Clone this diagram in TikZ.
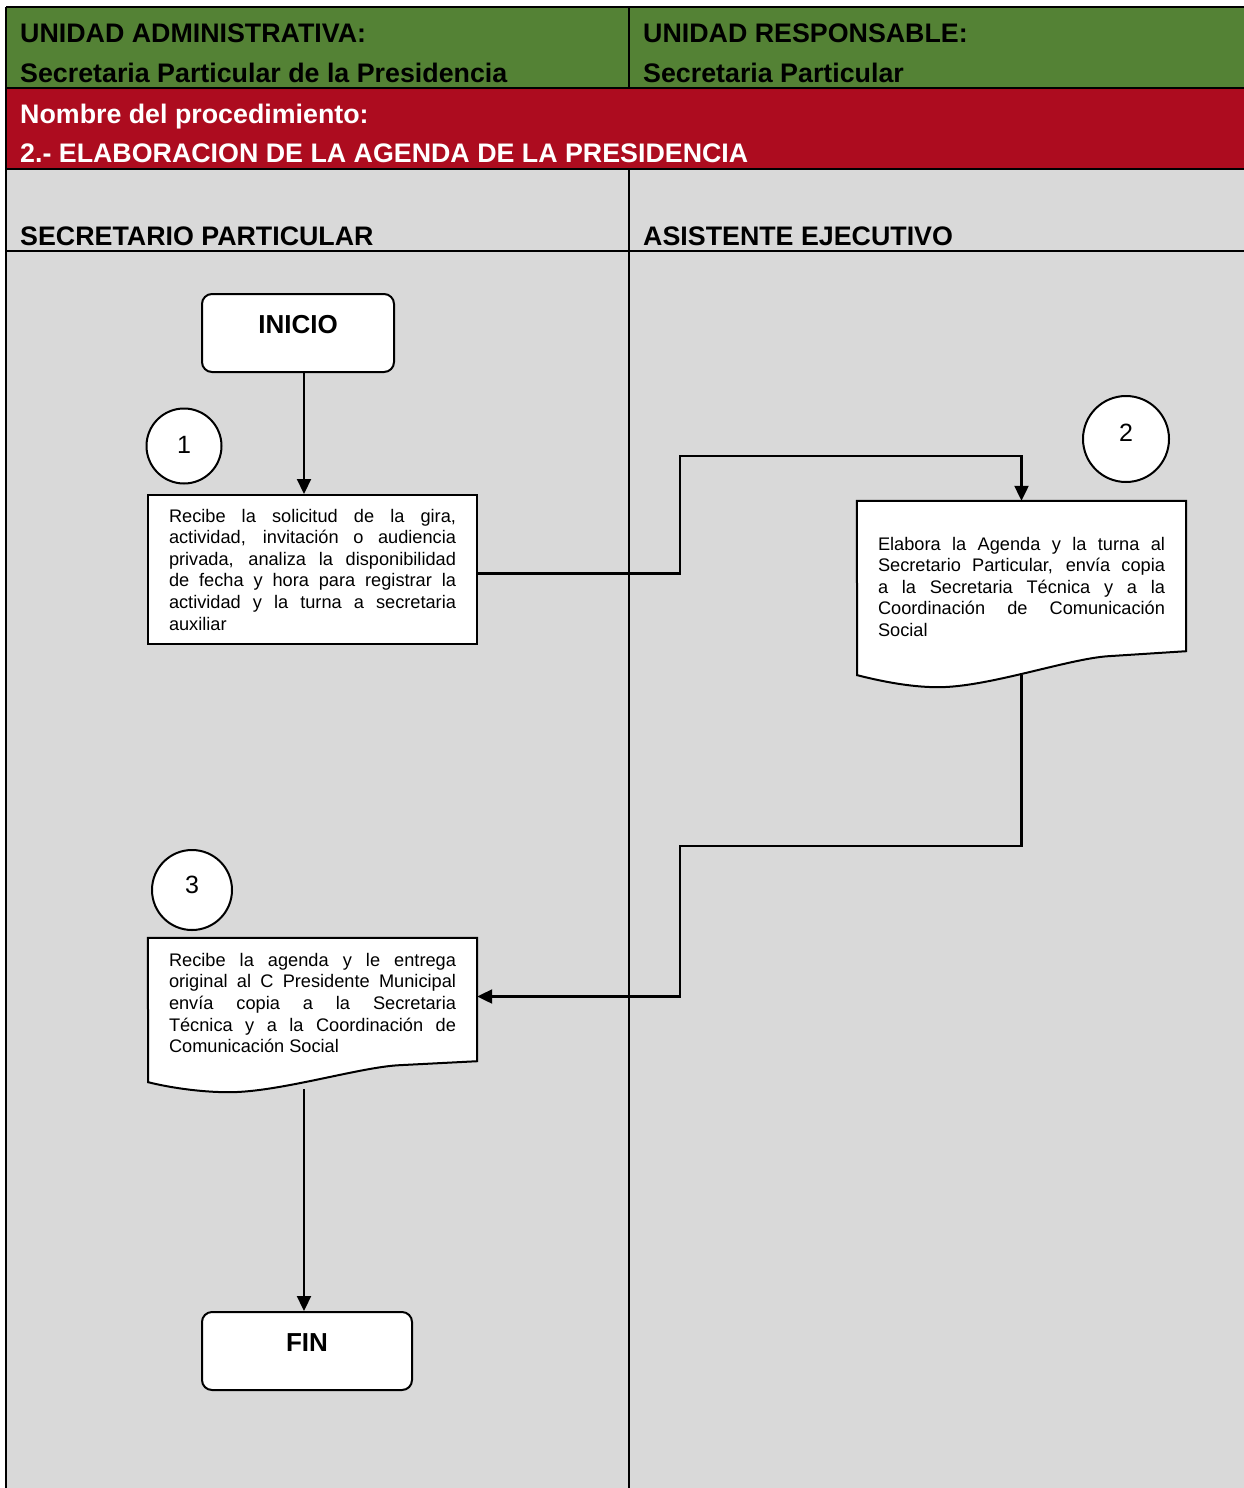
\documentclass[tikz,border=0pt]{standalone}
\usepackage{fontspec}
\setmainfont{Liberation Sans}
\usepackage{xcolor}
\usetikzlibrary{arrows.meta,positioning}
\definecolor{vgreen}{HTML}{548235}
\definecolor{vred}{HTML}{AD0C1F}
\definecolor{vgray}{HTML}{D9D9D9}

\begin{document}
\begin{tikzpicture}[x=1pt, y=-1pt,
		hdr/.style={anchor=base west, inner sep=0pt, font=\fontsize{26.8}{30}\selectfont\bfseries},
		endbox/.style={draw=black, fill=white, line width=2pt, rounded corners=10pt, minimum height=78pt, text height=10pt, text depth=10pt, font=\fontsize{26}{30}\selectfont\bfseries},
		stepbox/.style={draw=black, fill=white, line width=2pt, minimum width=329pt, text width=287pt, inner sep=0pt, align=justify, font=\fontsize{18.2}{21.6}\selectfont},
		docframe/.style={minimum width=329pt, inner sep=0pt},
		doctext/.style={text width=287pt, inner sep=0pt, align=justify, font=\fontsize{18.2}{21.6}\selectfont},
		num/.style={circle, draw=black, fill=white, line width=2pt, inner sep=0pt, text height=18pt, font=\fontsize{25}{28}\selectfont},
		flow/.style={line width=2.2pt, -{Triangle[length=15pt,width=14pt]}}]
		\useasboundingbox (0,0) rectangle (1244,1488);
		% header rows and lanes
		\fill[vgreen] (6,7) rectangle (1244,88);
		\fill[vred] (6,88) rectangle (1244,169);
		\fill[vgray] (6,169) rectangle (1244,1488);
		\draw[line width=2.5pt] (6,7) -- (1244,7);
		\draw[line width=2.5pt] (6,88) -- (1244,88);
		\draw[line width=2.5pt] (6,169) -- (1244,169);
		\draw[line width=2.5pt] (6,251) -- (1244,251);
		\draw[line width=2.5pt] (6,7) -- (6,1488);
		\draw[line width=2.5pt] (629,7) -- (629,88);
		\draw[line width=2.5pt] (629,169) -- (629,1488);
		\node[hdr] (unidadadm) at (20,42.5) {UNIDAD ADMINISTRATIVA:};
		\node[hdr] (secpres) at (20,82.5) {Secretaria Particular de la Presidencia};
		\node[hdr] (unidadresp) at (643,42.5) {UNIDAD RESPONSABLE:};
		\node[hdr] (secpart) at (643,82.5) {Secretaria Particular};
		\node[hdr, text=white] (nombre) at (20,123) {Nombre del procedimiento:};
		\node[hdr, text=white] (proc) at (20,162.5) {2.- ELABORACION DE LA AGENDA DE LA PRESIDENCIA};
		\node[hdr] (lane1) at (20,245.5) {SECRETARIO PARTICULAR};
		\node[hdr] (lane2) at (643,245.5) {ASISTENTE EJECUTIVO};
		% steps
		\node[endbox, minimum width=192pt] (inicio) at (298,333) {INICIO};
		\node[stepbox, minimum height=149pt] (step1) at (312.5,569.5) {Recibe la solicitud de la gira,\linebreak actividad, invitación o audiencia\linebreak privada, analiza la disponibilidad\linebreak de fecha y hora para registrar la\linebreak actividad y la turna a secretaria\linebreak auxiliar};
		\node[docframe, minimum height=150pt] (doc2) at (1021.5,576) {};
		\draw[line width=2pt, fill=white] (doc2.north west) -- (doc2.north east) -- (doc2.south east) -- ++(-78,5)
			.. controls +(-40,2.6) and +(50,0) .. ++(-170,31)
			.. controls +(-30,0) and +(20,5) .. ++(-81,-12) -- cycle;
		\node[doctext, below=36pt of doc2.north] (txt2) {Elabora la Agenda y la turna al\linebreak Secretario Particular, envía copia\linebreak a la Secretaria Técnica y a la\linebreak Coordinación de Comunicación\linebreak Social};
		\node[docframe, minimum height=123pt] (doc3) at (312.5,999.5) {};
		\draw[line width=2pt, fill=white] (doc3.north west) -- (doc3.north east) -- (doc3.south east) -- ++(-78,4)
			.. controls +(-40,2) and +(50,0) .. ++(-170,27)
			.. controls +(-30,0) and +(20,5) .. ++(-81,-10) -- cycle;
		\node[doctext, below=15pt of doc3.north] (txt3) {Recibe la agenda y le entrega\linebreak original al C Presidente Municipal\linebreak envía copia a la Secretaria\linebreak Técnica y a la Coordinación de\linebreak Comunicación Social};
		\node[endbox, minimum width=210pt] (fin) at (307,1351) {FIN};
		\node[num, minimum size=75pt, text depth=4pt] (n1) at (184,446) {1};
		\node[num, minimum size=86pt, text depth=14pt] (n2) at (1126,439) {2};
		\node[num, minimum size=80pt, text depth=12pt] (n3) at (192,890) {3};
		% connectors
		\coordinate (bend1) at (680,456);
		\coordinate (bend2) at (680,846);
		\coordinate (out3) at (304,1089);
		\draw[flow] ([xshift=6pt]inicio.south) -- ([xshift=6pt]inicio.south |- step1.north);
		\draw[flow] ([yshift=-4pt]step1.east) -| (bend1) -| (doc2.north);
		\draw[flow] ([yshift=-24pt]doc2.south) |- (bend2) |- ([yshift=3pt]doc3.east);
		\draw[flow] (out3) -- (out3 |- fin.north);
	\end{tikzpicture}
\end{document}
